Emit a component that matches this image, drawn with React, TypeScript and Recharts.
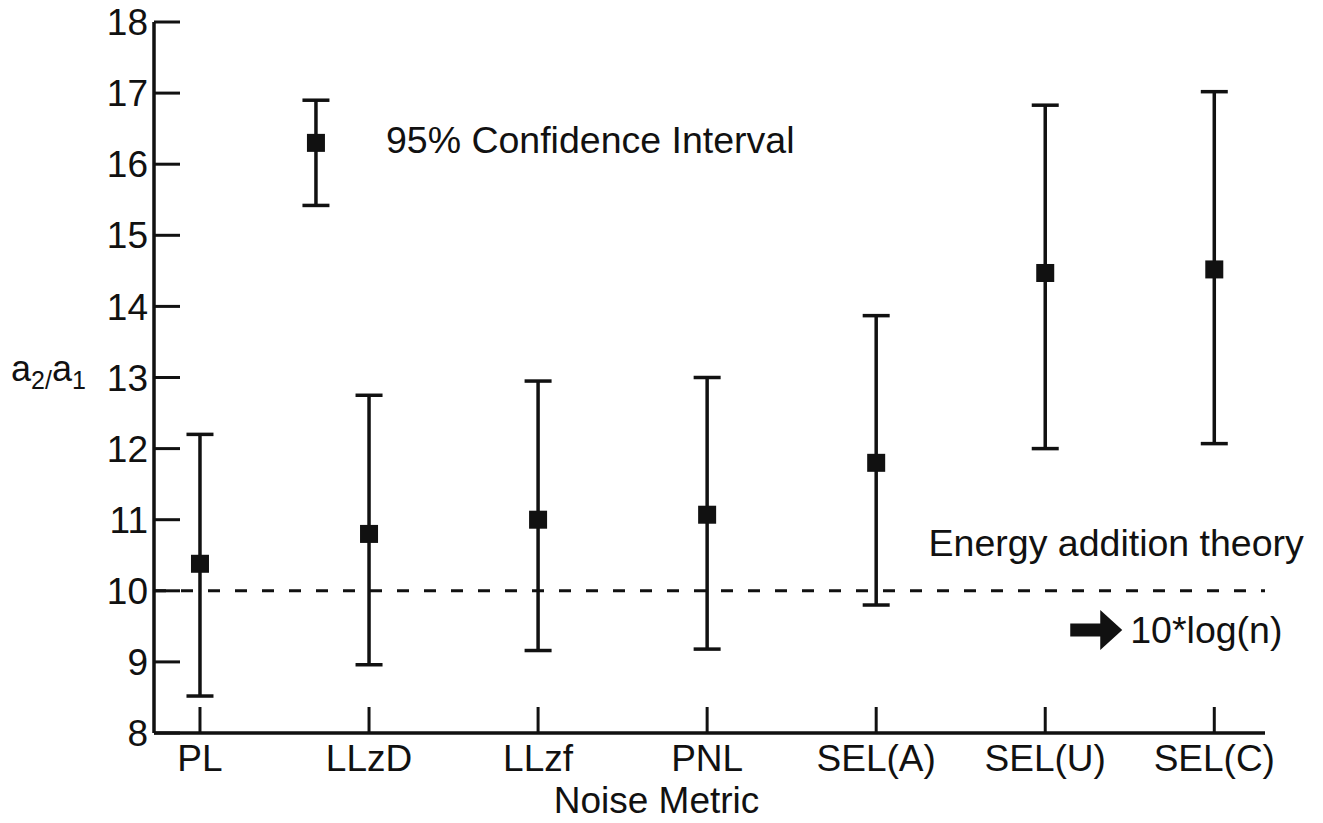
import React from 'react';
import {
  ComposedChart,
  ErrorBar,
  ReferenceDot,
  ReferenceLine,
  Scatter,
  XAxis,
  YAxis,
} from 'recharts';

const metrics = ['PL', 'LLzD', 'LLzf', 'PNL', 'SEL(A)', 'SEL(U)', 'SEL(C)'];
const means = [10.38, 10.8, 11.0, 11.07, 11.8, 14.47, 14.52];
const lowerCI = [8.52, 8.96, 9.16, 9.18, 9.8, 12.0, 12.07];
const upperCI = [12.2, 12.75, 12.95, 13.0, 13.87, 16.83, 17.02];
const yTicks = [8, 9, 10, 11, 12, 13, 14, 15, 16, 17, 18];
const xTicks = [0, 1, 2, 3, 4, 5, 6];

// sample marker used as the legend
const legendX = [0.686];
const legendMean = [16.3];
const legendLow = [15.42];
const legendHigh = [16.9];

const theoryLevel = 10;

const FONT = '"Liberation Sans", Arial, Helvetica, sans-serif';
const INK = '#111';

const points = metrics.map((m, i) => ({
  x: i,
  y: means[i],
  err: [means[i] - lowerCI[i], upperCI[i] - means[i]],
}));

const legendPoints = legendX.map((x, i) => ({
  x,
  y: legendMean[i],
  err: [legendMean[i] - legendLow[i], legendHigh[i] - legendMean[i]],
}));

const squareMarker = (props: any) => (
  <rect x={props.cx - 9} y={props.cy - 9} width={18} height={18} fill={INK} />
);

const textAt = (label: string, dy = 0) => (props: any) => (
  <text x={props.cx} y={props.cy + dy} fill={INK} fontSize={37.5} fontFamily={FONT} textAnchor="start">
    {label}
  </text>
);

const arrowShape = (props: any) => {
  const { cx, cy } = props;
  const pts = [
    [cx, cy - 6.5],
    [cx + 30, cy - 6.5],
    [cx + 30, cy - 20],
    [cx + 52, cy],
    [cx + 30, cy + 20],
    [cx + 30, cy + 6.5],
    [cx, cy + 6.5],
  ]
    .map((p) => p.join(','))
    .join(' ');
  return (
    <g>
      <polygon points={pts} fill={INK} />
      <text x={cx + 60} y={cy + 13} fill={INK} fontSize={37.5} fontFamily={FONT}>
        10*log(n)
      </text>
    </g>
  );
};

const yLabel = () => (
  <text x={11} y={381} fill={INK} fontFamily={FONT}>
    <tspan fontSize={36}>a</tspan>
    <tspan fontSize={25} dy={8}>2/</tspan>
    <tspan fontSize={36} dy={-8}>a</tspan>
    <tspan fontSize={25} dy={8}>1</tspan>
  </text>
);

export default function App() {
  return (
    <div style={{ position: 'absolute', left: 0, top: 0, background: '#fff' }}>
      <ComposedChart width={1323} height={823} margin={{ top: 22, right: 58, bottom: 0, left: 0 }}>
        <XAxis
          type="number"
          dataKey="x"
          domain={[-0.272, 6.3]}
          ticks={xTicks}
          interval={0}
          allowDataOverflow
          tickFormatter={(v) => metrics[v] ?? ''}
          height={90}
          axisLine={{ stroke: INK, strokeWidth: 3.5 }}
          tickLine={{ stroke: INK, strokeWidth: 3 }}
          tickSize={-26}
          tickMargin={38}
          tick={{ fill: INK, fontSize: 37, fontFamily: FONT }}
          label={{
            value: 'Noise Metric',
            position: 'insideBottom',
            offset: 10,
            dx: -53,
            fill: INK,
            fontSize: 37,
            fontFamily: FONT,
          }}
        />
        <YAxis
          type="number"
          domain={[8, 18]}
          ticks={yTicks}
          interval={0}
          allowDataOverflow
          width={154}
          axisLine={{ stroke: INK, strokeWidth: 3.5 }}
          tickLine={{ stroke: INK, strokeWidth: 3 }}
          tickSize={-26}
          tickMargin={32}
          tick={{ fill: INK, fontSize: 37, fontFamily: FONT }}
          label={{ content: yLabel }}
        />
        <ReferenceLine y={theoryLevel} stroke={INK} strokeWidth={3} strokeDasharray="12 15" />
        <Scatter data={points} dataKey="y" shape={squareMarker} isAnimationActive={false}>
          <ErrorBar dataKey="err" direction="y" width={13.5} stroke={INK} strokeWidth={3.5} />
        </Scatter>
        <Scatter data={legendPoints} dataKey="y" shape={squareMarker} isAnimationActive={false}>
          <ErrorBar dataKey="err" direction="y" width={13.5} stroke={INK} strokeWidth={3.5} />
        </Scatter>
        <ReferenceDot x={1.1} y={16.16} r={0} shape={textAt('95% Confidence Interval')} />
        <ReferenceDot x={4.31} y={10.49} r={0} shape={textAt('Energy addition theory')} />
        <ReferenceDot x={5.148} y={9.45} r={0} shape={arrowShape} />
      </ComposedChart>
    </div>
  );
}
